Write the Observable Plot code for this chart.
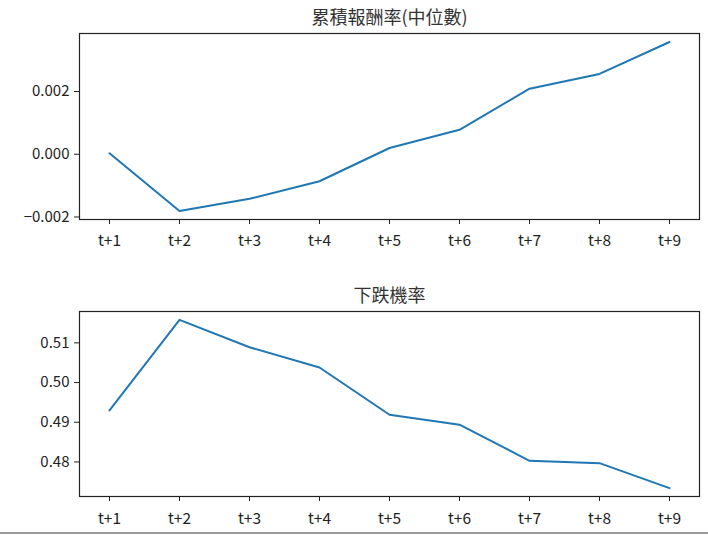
<!DOCTYPE html>
<html>
<head>
<meta charset="utf-8">
<script src="https://cdn.jsdelivr.net/npm/d3@7"></script>
<script src="https://cdn.jsdelivr.net/npm/@observablehq/plot@0.6"></script>
<style>
  html, body { margin: 0; padding: 0; background: #fff; }
  #wrap { width: 708px; height: 535px; position: relative; overflow: hidden; }
  #wrap svg { display: block; }
  #rule { position: absolute; left: 0; top: 532px; width: 708px; height: 2px; background: #9a9a9a; }
</style>
</head>
<body>
<div id="wrap"></div>
<script>
const periods = ["t+1", "t+2", "t+3", "t+4", "t+5", "t+6", "t+7", "t+8", "t+9"];
const medianReturn = [0.00003, -0.00181, -0.00142, -0.00086, 0.00020, 0.00078, 0.00209, 0.00256, 0.00358];
const downProb = [0.4930, 0.5158, 0.5089, 0.5038, 0.4919, 0.4894, 0.4803, 0.4797, 0.4734];
const title1 = "累積報酬率(中位數)";
const title2 = "下跌機率";
const yTicks1 = [-0.002, 0.000, 0.002];
const yTicks2 = [0.48, 0.49, 0.50, 0.51];

const font = "'Noto Sans CJK TC', 'Noto Sans', sans-serif";

function panel(values, title, yDomain, yTicks, yFmt, height, marginTop, marginBottom, xPad) {
  const data = periods.map((p, i) => ({p, v: values[i]}));
  return Plot.plot({
    width: 708,
    height,
    marginTop,
    marginBottom,
    marginLeft: 79,
    marginRight: 9,
    style: {fontFamily: font, fontSize: "15px", color: "#222", background: "#fff", overflow: "visible"},
    x: {type: "point", domain: periods, padding: 0.39, label: null},
    y: {domain: yDomain, label: null},
    marks: [
      Plot.axisX({tickSize: 5, tickPadding: xPad, fontSize: 15.5, label: null, stroke: "#222"}),
      Plot.axisY({ticks: yTicks, tickFormat: yFmt, tickSize: 5, tickPadding: 5, fontSize: 15, label: null, stroke: "#222"}),
      Plot.line(data, {x: "p", y: "v", stroke: "#1f77b4", strokeWidth: 2}),
      Plot.frame({stroke: "#222", strokeWidth: 1.2}),
      Plot.text([title], {frameAnchor: "top", lineAnchor: "middle", dy: -15, text: d => d, fontSize: 18, fill: "#333"})
    ]
  });
}

const fmt1 = d => (d < 0 ? "\u2212" : "") + d3.format(".3f")(Math.abs(d));
const fmt2 = d3.format(".2f");

const wrap = document.getElementById("wrap");
wrap.appendChild(panel(medianReturn, title1, [-0.00208, 0.00385], yTicks1, fmt1, 260, 33, 41, 10));
wrap.appendChild(panel(downProb, title2, [0.4713, 0.5179], yTicks2, fmt2, 275, 51, 39, 11));
const rule = document.createElement("div");
rule.id = "rule";
wrap.appendChild(rule);
</script>
</body>
</html>
